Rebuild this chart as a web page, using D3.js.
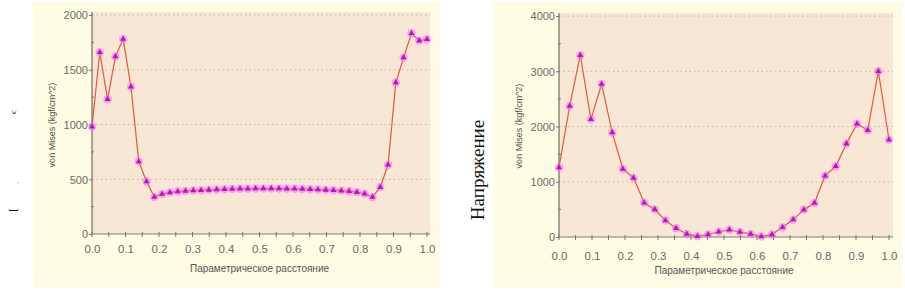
<!DOCTYPE html>
<html><head><meta charset="utf-8">
<script src="https://cdn.jsdelivr.net/npm/d3@7"></script>
<style>body{margin:0;background:#fff}svg{display:block}</style>
</head><body>
<svg id="c" width="905" height="294"></svg>
<script>
// Left chart: 44 evenly spaced points along parametric distance
const leftValues = [980,1660,1230,1620,1780,1345,663,480,337,365,380,388,393,397,400,403,406,409,411,413,414,415,415,415,415,414,413,411,409,406,403,400,396,390,382,368,337,428,632,1383,1611,1833,1766,1778];
// Right chart: 32 evenly spaced points
const rightValues = [1260,2370,3290,2130,2770,1890,1230,1070,620,500,300,160,55,15,45,95,130,90,55,10,45,175,315,495,615,1110,1280,1690,2050,1930,3000,1760];
const xTickLabels = ["0.0","0.1","0.2","0.3","0.4","0.5","0.6","0.7","0.8","0.9","1.0"];
const leftYTicks = [0,500,1000,1500,2000];
const rightYTicks = [0,1000,2000,3000,4000];
const yTitle = "von Mises (kgf/cm^2)";
const xTitle = "Параметрическое расстояние";
const sideLabel = "Напряжение";

const svg = d3.select("#c");

function chart(o){
  const g = svg.append("g");
  g.append("rect").attr("x",o.px0).attr("y",2).attr("width",o.px1-o.px0).attr("height",286).attr("fill","#FFFCE4");
  const x = d3.scaleLinear().domain([0,1]).range([o.x0,o.x1]);
  const y = d3.scaleLinear().domain([0,o.ymax]).range([o.y0,o.y1]);
  g.append("rect").attr("x",o.x0).attr("y",o.y1-3).attr("width",o.bgRight-o.x0).attr("height",o.y0-o.y1+3).attr("fill","#F7E7D4");
  // grid
  g.selectAll(".grid").data(o.yticks.filter(d=>d>0)).join("line")
    .attr("x1",o.x0).attr("x2",o.bgRight).attr("y1",d=>y(d)).attr("y2",d=>y(d))
    .attr("stroke","#BDB4AA").attr("stroke-width",1).attr("stroke-dasharray","1.5,3");
  // y axis
  const ya = d3.axisLeft(y).tickValues(o.yticks).tickSize(3).tickFormat(d3.format("d"));
  const yg = g.append("g").attr("transform",`translate(${o.x0},0)`).call(ya);
  yg.select(".domain").attr("stroke","#55504a").attr("d",`M0,${o.y1-3}V${o.y0}`);
  yg.selectAll(".tick line").attr("stroke","#777");
  yg.selectAll(".tick text").attr("fill","#6a6a6a").attr("font-size","11px").attr("font-family","Liberation Sans, Arial").attr("x",-4).attr("dy","0.35em");
  // minor y ticks
  const minorY = o.yticks.slice(0,-1).map((d,i)=>(d+o.yticks[i+1])/2);
  g.selectAll(".my").data(minorY).join("line").attr("x1",o.x0-1).attr("x2",o.x0+2).attr("y1",d=>y(d)).attr("y2",d=>y(d)).attr("stroke","#777");
  // x axis
  const xa = d3.axisBottom(x).tickValues(d3.range(11).map(i=>i/10)).tickSize(0).tickFormat((d,i)=>xTickLabels[i]);
  const xg = g.append("g").attr("transform",`translate(0,${o.y0})`).call(xa);
  xg.select(".domain").attr("stroke","#8a7d70").attr("stroke-width",1.2).attr("d",`M${o.x0},0H${o.bgRight}`);
  xg.selectAll(".tick text").attr("fill","#6a6a6a").attr("font-size","11.5px").attr("font-family","Liberation Sans, Arial").attr("y",o.xlabY).attr("dy","0.35em");
  g.selectAll(".xt").data(d3.range(21).map(i=>i/20)).join("line")
    .attr("x1",d=>x(d)).attr("x2",d=>x(d)).attr("y1",o.y0-2).attr("y2",o.y0+3).attr("stroke","#777");
  // titles
  g.append("text").attr("x",(o.x0+o.x1)/2).attr("y",o.xTitleY).attr("text-anchor","middle")
    .attr("font-size","10px").attr("font-family","Liberation Sans, Arial").attr("fill","#555").text(xTitle);
  g.append("text").attr("transform",`translate(${o.ytX},${o.ytY}) rotate(-90)`).attr("text-anchor","middle")
    .attr("font-size","9px").attr("font-family","Liberation Sans, Arial").attr("fill","#555").text(yTitle);
  // line
  const n = o.values.length;
  const pts = o.values.map((v,i)=>[i/(n-1), v]);
  g.append("path").datum(pts).attr("fill","none").attr("stroke","#DD5A3C").attr("stroke-width",1.2)
    .attr("d",d3.line().x(d=>x(d[0])).y(d=>y(d[1])));
  g.selectAll(".halo").data(pts).join("circle").attr("cx",d=>x(d[0])).attr("cy",d=>y(d[1])).attr("r",4.2)
    .attr("fill","#FF66FF").attr("opacity",0.55);
  g.selectAll(".mk").data(pts).join("path").attr("transform",d=>`translate(${x(d[0])},${y(d[1])})`)
    .attr("d",d3.symbol(d3.symbolTriangle,16)).attr("fill","#B01AB8");
}

chart({values:leftValues, ymax:2000, yticks:leftYTicks, px0:33, px1:440, x0:92, x1:427, bgRight:430, y0:234, y1:15, xlabY:15, xTitleY:272, ytX:55, ytY:125});
chart({values:rightValues, ymax:4000, yticks:rightYTicks, px0:493, px1:903, x0:559, x1:889, bgRight:893, y0:237, y1:16, xlabY:19, xTitleY:274, ytX:522, ytY:126});

// side label (serif)
svg.append("text").attr("transform","translate(484,170) rotate(-90)").attr("text-anchor","middle")
  .attr("font-size","19px").attr("font-family","Liberation Serif, Times New Roman").attr("fill","#111").text(sideLabel);
// cut-off glyph fragments on the far left
svg.append("text").attr("transform","translate(16,112) rotate(-90)").attr("text-anchor","middle")
  .attr("font-size","9px").attr("font-family","Liberation Serif").attr("fill","#222").text("с");
svg.append("text").attr("x",18).attr("y",181).attr("text-anchor","middle")
  .attr("font-size","8px").attr("font-family","Liberation Serif").attr("fill","#222").text("ˌ");
svg.append("text").attr("transform","translate(16,210) rotate(-90)").attr("text-anchor","middle")
  .attr("font-size","11px").attr("font-family","Liberation Serif").attr("fill","#111").text("[");
</script>
</body></html>
